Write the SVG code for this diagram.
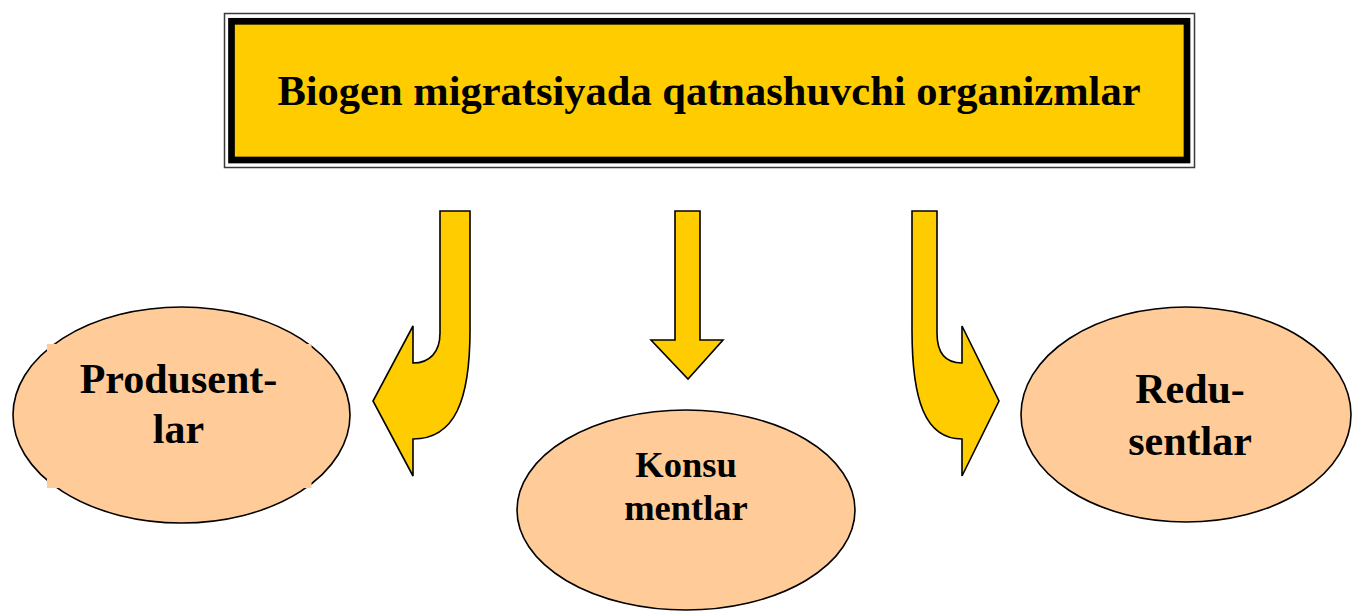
<svg xmlns="http://www.w3.org/2000/svg" width="1352" height="615" viewBox="0 0 1352 615">
  <style>
    .label { font-family: "Liberation Serif", "Times New Roman", serif; font-weight: bold; fill: #000; text-anchor: middle; }
    .oval { fill: #FFCC99; stroke: #000; stroke-width: 1.6; }
    .arrow { fill: #FFCC00; stroke: #000; stroke-width: 1.6; stroke-linejoin: miter; }
  </style>
  <rect width="1352" height="615" fill="#fff"/>

  <!-- title box with double frame -->
  <g id="title">
    <rect x="224.5" y="13.5" width="970" height="154" fill="#fff" stroke="#3a3a3a" stroke-width="1.5"/>
    <rect x="231.5" y="21.3" width="955.5" height="138.7" fill="#FFCC00" stroke="#000" stroke-width="6.7"/>
    <text class="label" x="709" y="105" font-size="42.5">Biogen migratsiyada qatnashuvchi organizmlar</text>
  </g>

  <!-- connectors: block arrows -->
  <g id="connectors">
    <path class="arrow" d="M440,211 L470,211 L470,330 C470,400 455,439 413,439 L413,476 L373,401 L413,326 L413,363 C430,363 440,352 440,333 Z"/>
    <path class="arrow" d="M675,211 L700,211 L700,340 L723,340 L688,379 L651,340 L675,340 Z"/>
    <path class="arrow" d="M912,211 L937,211 L937,333 C937,352 945,363 962,363 L962,326 L999,401 L962,476 L962,439 C925,439 912,400 912,330 Z"/>
  </g>

  <g id="produsentlar">
    <ellipse class="oval" cx="181.5" cy="415" rx="168.5" ry="108"/>
    <rect x="47" y="344" width="264.5" height="144" fill="#FFCC99"/>
    <text class="label" x="178.5" y="393" font-size="42">Produsent-</text>
    <text class="label" x="178.5" y="443" font-size="42">lar</text>
  </g>

  <g id="konsumentlar">
    <ellipse class="oval" cx="686" cy="510" rx="169" ry="100"/>
    <text class="label" x="686" y="477" font-size="36.5">Konsu</text>
    <text class="label" x="686" y="520" font-size="36.5">mentlar</text>
  </g>

  <g id="redusentlar">
    <ellipse class="oval" cx="1186" cy="414.5" rx="165" ry="107.5"/>
    <text class="label" x="1190" y="403" font-size="42">Redu-</text>
    <text class="label" x="1190" y="455" font-size="42">sentlar</text>
  </g>
</svg>
